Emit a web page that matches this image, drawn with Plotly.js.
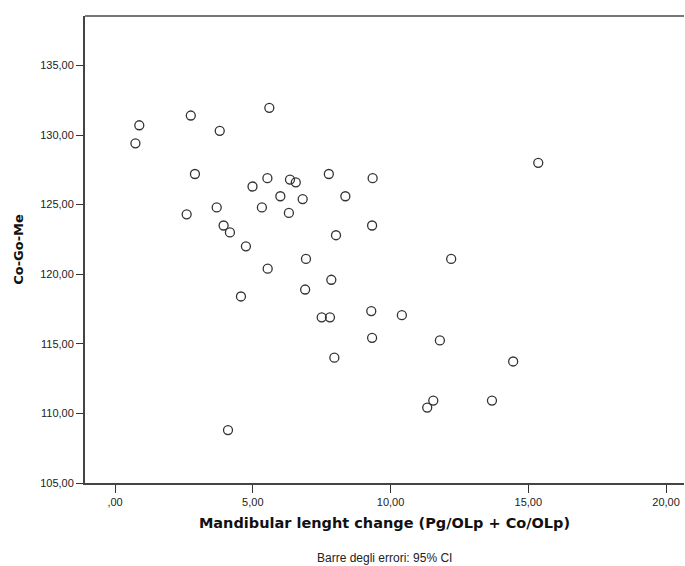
<!DOCTYPE html>
<html><head><meta charset="utf-8">
<script src="https://cdn.plot.ly/plotly-3.0.1.min.js"></script>
<style>html,body{margin:0;padding:0;background:#fff}#chart{width:685px;height:566px}</style>
</head><body><div id="chart"></div>
<script>
const mandibularChange = [0.88,0.74,2.75,3.80,5.60,2.90,2.60,3.69,3.94,4.17,4.75,4.99,5.53,5.33,5.54,6.00,6.35,6.56,6.31,6.81,7.76,8.36,8.02,6.93,7.85,6.90,4.57,9.35,9.33,12.20,15.36,7.50,7.80,7.96,4.10,9.30,10.41,9.33,11.79,14.45,11.55,11.33,13.68];
const coGoMe = [130.7,129.4,131.4,130.3,131.95,127.2,124.3,124.8,123.5,123.0,122.0,126.3,126.9,124.8,120.4,125.6,126.8,126.6,124.4,125.4,127.2,125.6,122.8,121.1,119.6,118.9,118.4,126.9,123.5,121.1,128.0,116.9,116.9,114.0,108.8,117.35,117.06,115.43,115.24,113.73,110.92,110.42,110.92];
const xTickVals = [0,5,10,15,20];
const xTickText = [",00","5,00","10,00","15,00","20,00"];
const yTickVals = [105,110,115,120,125,130,135];
const yTickText = ["105,00","110,00","115,00","120,00","125,00","130,00","135,00"];

const font = "Liberation Sans, Arial, sans-serif";
const titleFont = "DejaVu Sans, sans-serif";
Plotly.newPlot("chart", [{
  x: mandibularChange, y: coGoMe, type: "scatter", mode: "markers",
  marker: {symbol: "circle-open", size: 9, color: "#333333", line: {width: 1.3, color: "#333333"}},
  hoverinfo: "skip"
}], {
  width: 685, height: 566,
  margin: {l: 85, r: 1, t: 16, b: 83},
  paper_bgcolor: "#fff", plot_bgcolor: "#fff",
  showlegend: false,
  font: {family: font, size: 11, color: "#222"},
  xaxis: {
    range: [-1.09, 20.65], tickvals: xTickVals, ticktext: xTickText,
    ticks: "outside", ticklen: 8, tickwidth: 1, tickcolor: "#333",
    showline: true, linecolor: "#444", linewidth: 2, showgrid: false, zeroline: false,
    tickfont: {family: font, size: 11, color: "#222"},
    title: {text: "Mandibular lenght change (Pg/OLp + Co/OLp)", font: {family: titleFont, size: 14.5, color: "#111", weight: "bold"}, standoff: 11}
  },
  yaxis: {
    range: [105, 138.55], tickvals: yTickVals, ticktext: yTickText,
    ticks: "outside", ticklen: 7, tickwidth: 1, tickcolor: "#333",
    showline: true, linecolor: "#444", linewidth: 2, showgrid: false, zeroline: false,
    tickfont: {family: font, size: 11, color: "#222"},
    title: {text: "Co-Go-Me", font: {family: titleFont, size: 13, color: "#111", weight: "bold"}, standoff: 14}
  },
  shapes: [{type: "line", xref: "paper", yref: "paper", x0: 0, x1: 1, y0: 1, y1: 1, line: {color: "#777", width: 2}}],
  annotations: [{text: "Barre degli errori: 95% CI", xref: "paper", yref: "paper", x: 0.5, y: -0.1606, yanchor: "middle", xanchor: "center", showarrow: false, font: {family: font, size: 12, color: "#222"}}]
}, {displayModeBar: false, staticPlot: true});
</script></body></html>
